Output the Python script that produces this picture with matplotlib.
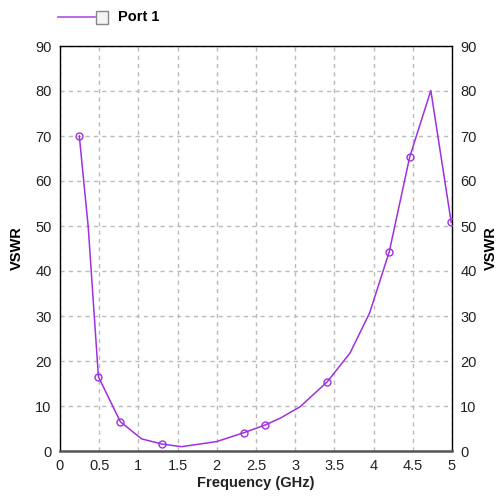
import matplotlib
matplotlib.use("Agg")
import matplotlib.pyplot as plt
from matplotlib.lines import Line2D
from matplotlib.patches import Rectangle

plt.rcParams['font.family'] = ['Liberation Sans', 'DejaVu Sans']

# line vertices (frequency GHz, VSWR)
freq = [0.246, 0.36, 0.49, 0.77, 1.04, 1.30, 1.55, 2.0, 2.35, 2.62, 2.81, 3.06,
        3.41, 3.70, 3.95, 4.20, 4.46, 4.73, 4.99]
vswr = [70.0, 49.8, 16.5, 6.5, 2.7, 1.55, 0.96, 2.1, 4.1, 5.8, 7.3, 9.8,
        15.4, 21.8, 30.7, 44.3, 65.3, 80.1, 50.8]
# marker positions
mk_freq = [0.246, 0.49, 0.77, 1.30, 2.35, 2.62, 3.41, 4.20, 4.46, 4.99]
mk_vswr = [70.0, 16.5, 6.5, 1.55, 4.1, 5.8, 15.4, 44.3, 65.3, 50.8]

xticks = [0, 0.5, 1, 1.5, 2, 2.5, 3, 3.5, 4, 4.5, 5]
xticklabels = ['0', '0.5', '1', '1.5', '2', '2.5', '3', '3.5', '4', '4.5', '5']
yticks = [0, 10, 20, 30, 40, 50, 60, 70, 80, 90]

color = '#a030e0'
tcol = '#222222'

fig = plt.figure(figsize=(5.01, 4.98), dpi=100)
ax = fig.add_axes([60/501, 47/498, 392/501, 405/498])
ax.plot(freq, vswr, color=color, lw=1.1, zorder=3)
ax.plot(mk_freq, mk_vswr, ls='none', marker='o', ms=5, mfc='none', mec=color,
        mew=1.0, zorder=4)
ax.set_xlim(0, 5)
ax.set_ylim(0, 90)
ax.set_xticks(xticks)
ax.set_xticklabels(xticklabels)
ax.set_yticks(yticks)
ax.grid(True, ls=(0, (3, 3)), color='#bbbbbb', lw=1.0)
ax.tick_params(length=0, labelsize=10.5, colors=tcol, pad=6)
for s in ['left', 'top', 'right']:
    ax.spines[s].set_color('black')
    ax.spines[s].set_linewidth(1.0)
ax.spines['bottom'].set_color('#555555')
ax.spines['bottom'].set_linewidth(1.8)
ax.set_xlabel('Frequency (GHz)', fontsize=10.5, fontweight='bold', labelpad=2, color=tcol)
ax.set_ylabel('VSWR', fontsize=10.5, fontweight='bold', labelpad=8, color='black')

ax2 = ax.twinx()
ax2.set_ylim(0, 90)
ax2.set_yticks(yticks)
ax2.tick_params(length=0, labelsize=10.5, colors=tcol, pad=6)
ax2.set_ylabel('VSWR', fontsize=10.5, fontweight='bold', labelpad=5, color='black')
for s in ax2.spines.values():
    s.set_visible(False)

# legend
fig.add_artist(Line2D([58/501, 95/501], [1 - 17/498, 1 - 17/498], color='#b050e0', lw=1.2))
fig.add_artist(Rectangle((96/501, 1 - 24/498), 12/501, 13/498, fc='#f4f4f4', ec='#888888', lw=1.0))
fig.text(118/501, 1 - 17/498, 'Port 1', fontsize=10.5, fontweight='bold', va='center', ha='left', color='black')

fig.savefig('out.png', dpi=100)
